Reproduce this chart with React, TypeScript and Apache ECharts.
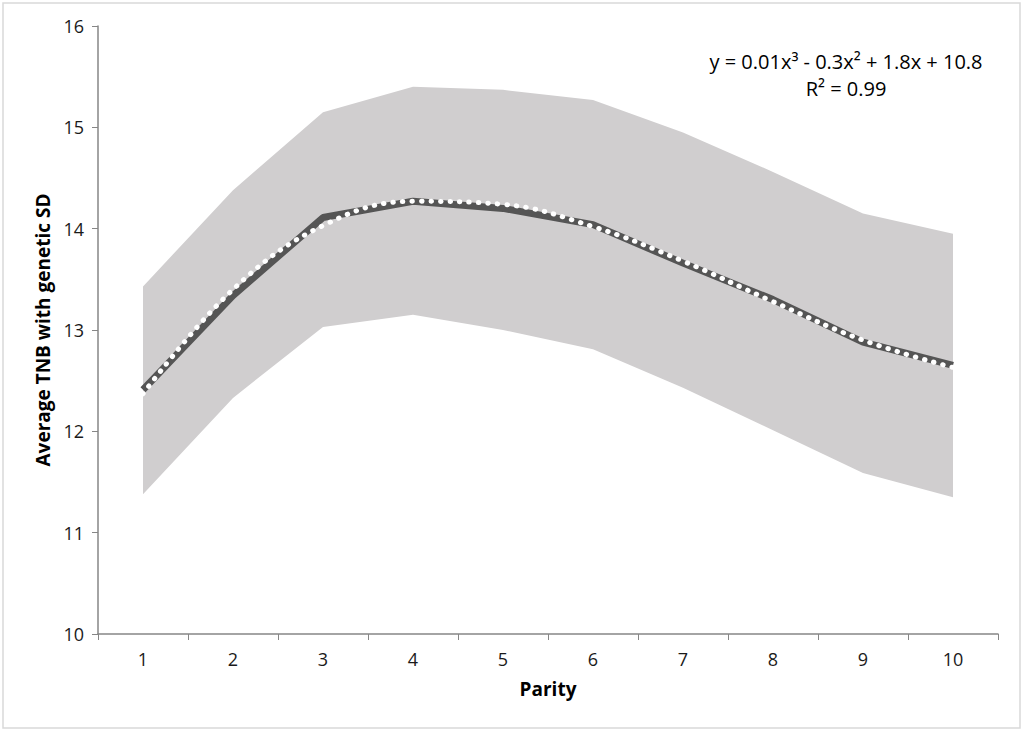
import React, { useEffect, useRef } from "react";
import * as echarts from "echarts";

const parity = ["1", "2", "3", "4", "5", "6", "7", "8", "9", "10"];
const meanTNB = [12.41, 13.34, 14.11, 14.27, 14.2, 14.04, 13.66, 13.3, 12.88, 12.65];
const upperSD = [13.43, 14.38, 15.15, 15.4, 15.37, 15.27, 14.95, 14.56, 14.15, 13.95];
const lowerSD = [11.38, 12.33, 13.03, 13.15, 13.0, 12.81, 12.43, 12.01, 11.59, 11.35];
const trendTNB = [12.37, 13.4, 14.03, 14.27, 14.24, 14.02, 13.68, 13.28, 12.9, 12.63];
const yTicks = { min: 10, max: 16, interval: 1 };
const equationText = "y = 0.01x³ - 0.3x² + 1.8x + 10.8";
const r2Text = "R² = 0.99";

const FONT = "'Open Sans', 'Liberation Sans', sans-serif";

export default function App() {
  const ref = useRef<HTMLDivElement>(null);
  useEffect(() => {
    if (!ref.current) return;
    const chart = echarts.init(ref.current, null, { renderer: "svg" });
    chart.setOption({
      animation: false,
      backgroundColor: "#ffffff",
      grid: { left: 98, right: 26, top: 26, bottom: 96, containLabel: false },
      xAxis: {
        type: "category",
        data: parity,
        boundaryGap: true,
        z: 10,
        name: "Parity",
        nameLocation: "middle",
        nameGap: 45,
        nameTextStyle: { fontFamily: FONT, fontWeight: "bold", fontSize: 19, color: "#000" },
        axisLine: { lineStyle: { color: "#868686", width: 1.5 } },
        axisTick: { show: true, length: 6, inside: false, lineStyle: { color: "#868686" } },
        axisLabel: { fontFamily: FONT, fontSize: 18, color: "#1a1a1a", margin: 16 },
        splitLine: { show: false },
      },
      yAxis: {
        type: "value",
        min: yTicks.min,
        max: yTicks.max,
        interval: yTicks.interval,
        z: 10,
        name: "Average TNB with genetic SD",
        nameLocation: "middle",
        nameGap: 45,
        nameTextStyle: { fontFamily: FONT, fontWeight: "bold", fontSize: 19, color: "#000" },
        axisLine: { show: true, lineStyle: { color: "#868686", width: 1.5 } },
        axisTick: { show: true, length: 6, inside: false, lineStyle: { color: "#868686" } },
        axisLabel: { fontFamily: FONT, fontSize: 18, color: "#1a1a1a", margin: 14 },
        splitLine: { show: false },
      },
      series: [
        {
          name: "upper",
          type: "line",
          data: upperSD,
          symbol: "none",
          lineStyle: { width: 0 },
          areaStyle: { color: "#D0CECF", opacity: 1, origin: "start" },
          z: 1,
        },
        {
          name: "lower",
          type: "line",
          data: lowerSD,
          symbol: "none",
          lineStyle: { width: 0 },
          areaStyle: { color: "#ffffff", opacity: 1, origin: "start" },
          z: 2,
        },
        {
          name: "mean",
          type: "line",
          data: meanTNB,
          symbol: "none",
          lineStyle: { color: "#555555", width: 7 },
          z: 3,
        },
        {
          name: "trend",
          type: "line",
          data: trendTNB,
          symbol: "none",
          smooth: 0.4,
          lineStyle: { color: "#ffffff", width: 5, type: [0.5, 9], cap: "round" },
          z: 4,
        },
      ],
      graphic: [
        {
          type: "rect",
          shape: { x: 3, y: 3, width: 1017, height: 725 },
          style: { fill: "none", stroke: "#D9D9D9", lineWidth: 1.5 },
          silent: true,
        },
        {
          type: "text",
          x: 846,
          y: 61,
          style: {
            text: equationText,
            fontFamily: FONT,
            fontSize: 20,
            fill: "#000",
            textAlign: "center",
            textVerticalAlign: "middle",
          },
        },
        {
          type: "text",
          x: 846,
          y: 88,
          style: {
            text: r2Text,
            fontFamily: FONT,
            fontSize: 20,
            fill: "#000",
            textAlign: "center",
            textVerticalAlign: "middle",
          },
        },
      ],
    });
    return () => chart.dispose();
  }, []);
  return (
    <div
      ref={ref}
      style={{ position: "fixed", left: 0, top: 0, width: 1024, height: 730 }}
    />
  );
}
